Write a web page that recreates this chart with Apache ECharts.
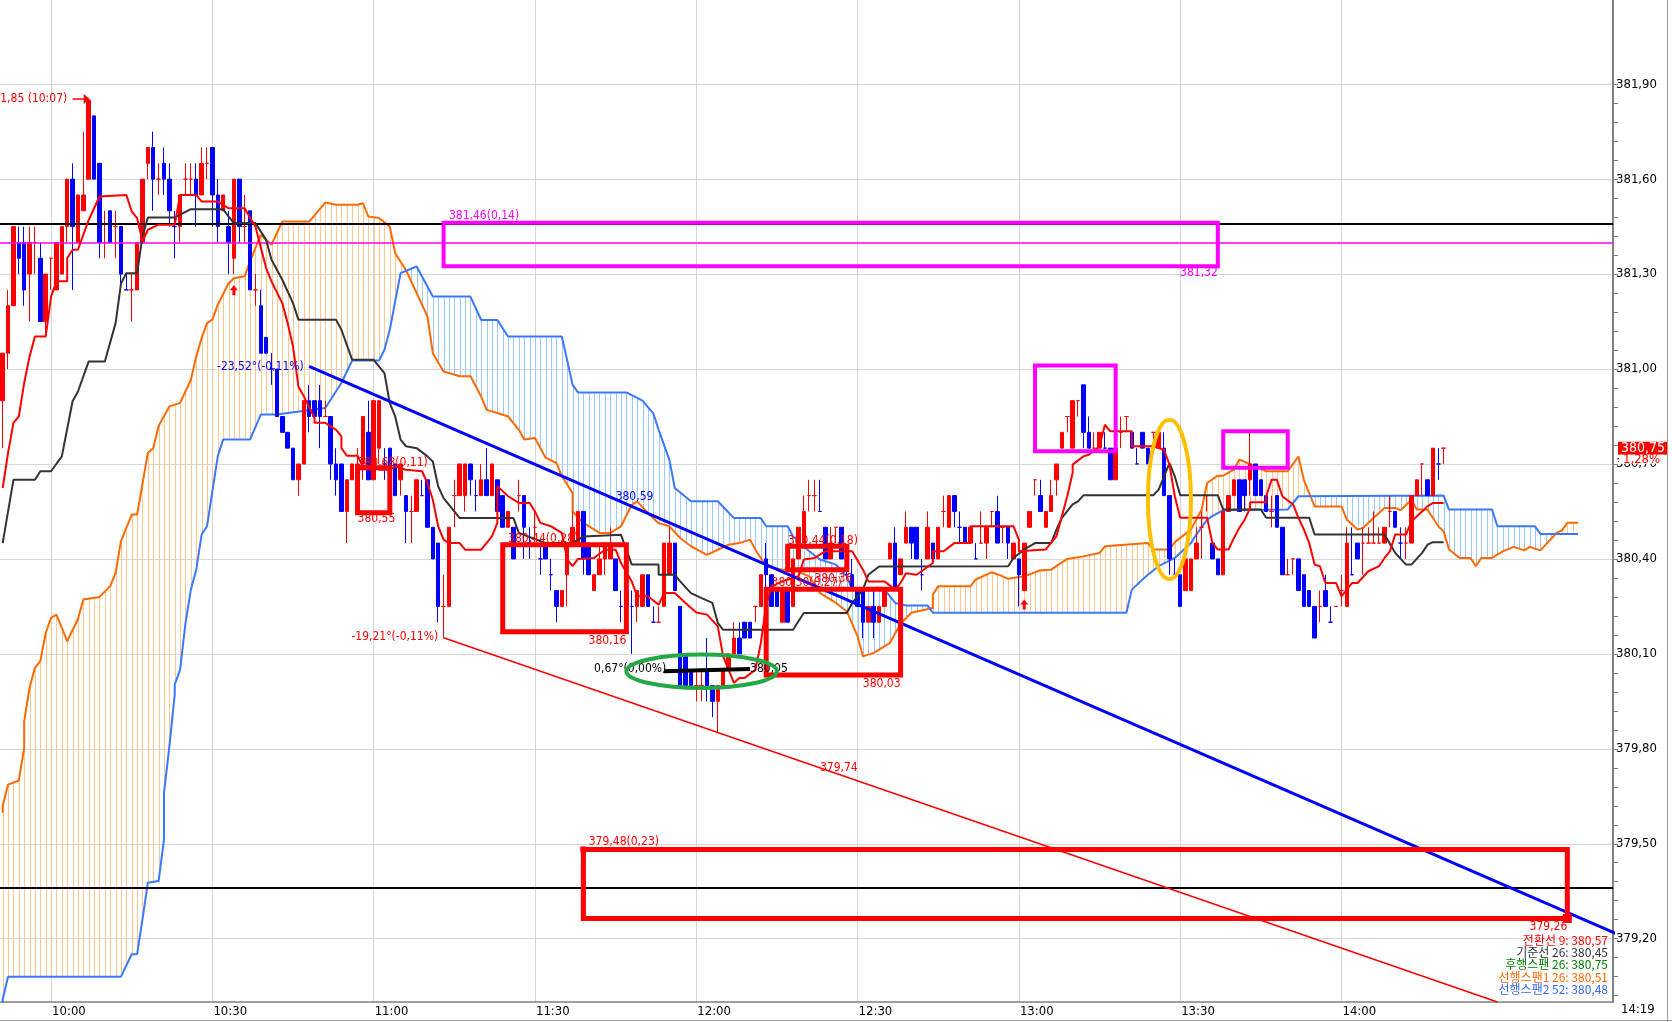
<!DOCTYPE html>
<html>
<head>
<meta charset="utf-8">
<title>일목균형표</title>
<script src="https://cdn.jsdelivr.net/npm/echarts@6.0.0/dist/echarts.min.js"></script>
<style>
  html, body { margin: 0; padding: 0; background: #fff; }
  #chart { width: 1672px; height: 1022px; }
</style>
</head>
<body>
<div id="chart"></div>
<script>
var NUM_FONT = '"Liberation Sans Narrow", "DejaVu Sans Condensed", "Arial Narrow", sans-serif';
var KR_FONT = '"Noto Sans CJK KR", "Noto Sans", sans-serif';

// ---- 분봉 시간축 (09:51 ~ 14:50, 1분 간격) ----
var firstMinute = 9 * 60 + 51;
var slotCount = 300;
var times = [];
for (var k = 0; k < slotCount; k++) {
  var mm = firstMinute + k;
  times.push(pad(Math.floor(mm / 60)) + ':' + pad(mm % 60));
}
function pad(n) { return (n < 10 ? '0' : '') + n; }

var gridTimes = ['10:00', '10:30', '11:00', '11:30', '12:00', '12:30', '13:00', '13:30', '14:00'];
var yTicks = [379.20, 379.50, 379.80, 380.10, 380.40, 380.70, 381.00, 381.30, 381.60, 381.90];

// ---- 캔들 [시가, 종가, 저가, 고가] ----
var candles = [
  [380.90,381.05,380.75,381.05],[381.05,381.20,381.00,381.25],[381.20,381.45,381.20,381.45],[381.40,381.35,381.30,381.45],
  [381.40,381.25,381.20,381.45],[381.30,381.40,381.15,381.45],[381.40,381.40,381.30,381.45],[381.35,381.15,381.15,381.40],
  [381.15,381.30,381.10,381.30],[381.35,381.35,381.25,381.35],[381.25,381.40,381.25,381.40],[381.30,381.45,381.30,381.45],
  [381.45,381.60,381.40,381.60],[381.60,381.45,381.25,381.65],[381.40,381.55,381.40,381.55],[381.50,381.55,381.50,381.75],
  [381.60,381.85,381.60,381.85],[381.80,381.60,381.60,381.80],[381.65,381.40,381.35,381.65],[381.40,381.40,381.35,381.50],
  [381.50,381.40,381.40,381.50],[381.45,381.45,381.35,381.50],[381.45,381.30,381.25,381.45],[381.25,381.25,381.25,381.30],
  [381.25,381.25,381.15,381.30],[381.25,381.40,381.25,381.40],[381.40,381.60,381.40,381.60],[381.65,381.70,381.60,381.70],
  [381.70,381.60,381.50,381.75],[381.60,381.60,381.55,381.65],[381.65,381.60,381.55,381.70],[381.60,381.50,381.45,381.65],
  [381.45,381.45,381.35,381.50],[381.45,381.55,381.40,381.55],[381.60,381.60,381.55,381.65],[381.60,381.60,381.55,381.65],
  [381.60,381.55,381.45,381.65],[381.55,381.65,381.55,381.70],[381.65,381.65,381.60,381.70],[381.70,381.55,381.45,381.70],
  [381.55,381.45,381.40,381.60],[381.50,381.55,381.50,381.55],[381.45,381.40,381.30,381.50],[381.35,381.60,381.30,381.60],
  [381.60,381.45,381.40,381.60],[381.45,381.45,381.40,381.55],[381.50,381.25,381.25,381.50],[381.25,381.25,381.20,381.30],
  [381.20,381.05,381.05,381.25],[381.10,381.05,381.05,381.10],[381.00,381.00,380.95,381.05],[381.00,380.85,380.85,381.00],
  [380.85,380.80,380.80,380.85],[380.80,380.75,380.75,380.80],[380.75,380.65,380.65,380.75],[380.65,380.70,380.60,380.70],
  [380.70,380.90,380.70,380.90],[380.90,380.85,380.80,380.95],[380.90,380.85,380.85,380.90],[380.90,380.85,380.75,380.95],
  [380.85,380.85,380.85,380.90],[380.85,380.70,380.65,380.85],[380.70,380.65,380.60,380.75],[380.70,380.55,380.55,380.70],
  [380.55,380.65,380.45,380.65],[380.65,380.70,380.65,380.70],[380.65,380.70,380.60,380.75],[380.70,380.85,380.65,380.85],
  [380.80,380.65,380.65,380.90],[380.65,380.90,380.65,380.90],[380.75,380.90,380.70,380.90],[380.70,380.70,380.65,380.75],
  [380.75,380.65,380.60,380.75],[380.70,380.60,380.60,380.70],[380.65,380.70,380.60,380.70],[380.60,380.55,380.45,380.60],
  [380.55,380.55,380.45,380.60],[380.55,380.65,380.55,380.65],[380.60,380.60,380.60,380.65],[380.65,380.50,380.50,380.65],
  [380.50,380.40,380.40,380.50],[380.45,380.25,380.20,380.45],[380.25,380.25,380.15,380.35],[380.25,380.50,380.25,380.50],
  [380.60,380.60,380.50,380.65],[380.60,380.70,380.60,380.70],[380.60,380.70,380.55,380.70],[380.70,380.65,380.60,380.70],
  [380.60,380.60,380.55,380.65],[380.60,380.65,380.60,380.70],[380.65,380.60,380.60,380.75],[380.60,380.70,380.60,380.70],
  [380.65,380.55,380.55,380.65],[380.60,380.50,380.50,380.60],[380.50,380.55,380.50,380.55],[380.50,380.40,380.40,380.50],
  [380.60,380.60,380.55,380.65],[380.60,380.50,380.40,380.60],[380.45,380.45,380.40,380.50],[380.50,380.50,380.45,380.55],
  [380.40,380.40,380.35,380.45],[380.45,380.40,380.40,380.45],[380.35,380.35,380.30,380.40],[380.30,380.25,380.20,380.30],
  [380.25,380.30,380.25,380.30],[380.35,380.45,380.25,380.45],[380.45,380.50,380.45,380.55],[380.45,380.55,380.45,380.55],
  [380.55,380.40,380.35,380.55],[380.45,380.35,380.35,380.45],[380.30,380.35,380.30,380.35],[380.35,380.40,380.35,380.45],
  [380.40,380.45,380.35,380.45],[380.40,380.45,380.40,380.50],[380.40,380.30,380.30,380.40],[380.25,380.25,380.20,380.30],
  [380.25,380.30,380.20,380.30],[380.25,380.25,380.10,380.30],[380.25,380.30,380.20,380.30],[380.25,380.35,380.25,380.35],
  [380.35,380.25,380.25,380.35],[380.20,380.20,380.20,380.25],[380.20,380.20,380.20,380.25],[380.25,380.45,380.25,380.45],
  [380.35,380.45,380.35,380.50],[380.45,380.30,380.30,380.45],[380.25,380.00,380.00,380.25],[380.10,380.00,380.00,380.10],
  [380.05,380.00,380.00,380.05],[380.00,380.00,379.95,380.05],[380.00,380.00,379.95,380.05],[380.05,380.00,379.95,380.15],
  [380.00,379.95,379.90,380.00],[379.95,380.00,379.85,380.00],[380.00,380.05,380.00,380.05],[380.05,380.10,380.05,380.10],
  [380.10,380.15,380.10,380.20],[380.15,380.10,380.10,380.20],[380.20,380.15,380.15,380.20],[380.20,380.15,380.15,380.20],
  [380.25,380.25,380.20,380.25],[380.25,380.35,380.25,380.35],[380.40,380.35,380.25,380.45],[380.35,380.25,380.25,380.35],
  [380.30,380.25,380.25,380.30],[380.20,380.30,380.20,380.30],[380.30,380.20,380.20,380.30],[380.25,380.40,380.25,380.40],
  [380.40,380.50,380.40,380.50],[380.45,380.55,380.45,380.60],[380.60,380.60,380.55,380.65],[380.60,380.60,380.55,380.65],
  [380.55,380.55,380.55,380.65],[380.50,380.40,380.40,380.50],[380.40,380.45,380.40,380.50],[380.50,380.50,380.45,380.50],
  [380.50,380.40,380.40,380.50],[380.35,380.35,380.35,380.40],[380.35,380.30,380.30,380.40],[380.30,380.25,380.25,380.30],
  [380.30,380.20,380.15,380.30],[380.20,380.25,380.20,380.25],[380.25,380.20,380.15,380.30],[380.20,380.25,380.20,380.25],
  [380.25,380.30,380.25,380.30],[380.40,380.45,380.40,380.45],[380.45,380.30,380.30,380.50],[380.35,380.40,380.35,380.40],
  [380.45,380.50,380.45,380.55],[380.50,380.45,380.40,380.50],[380.50,380.40,380.40,380.50],[380.35,380.35,380.30,380.40],
  [380.40,380.50,380.40,380.55],[380.45,380.40,380.40,380.45],[380.40,380.50,380.40,380.50],[380.55,380.55,380.50,380.60],
  [380.50,380.60,380.50,380.60],[380.60,380.55,380.50,380.60],[380.50,380.50,380.45,380.55],[380.50,380.45,380.45,380.50],
  [380.45,380.50,380.45,380.50],[380.40,380.40,380.40,380.45],[380.45,380.45,380.45,380.55],[380.45,380.50,380.40,380.50],
  [380.55,380.55,380.50,380.55],[380.55,380.45,380.45,380.60],[380.50,380.50,380.45,380.50],[380.50,380.45,380.40,380.50],
  [380.40,380.45,380.40,380.45],[380.40,380.35,380.25,380.40],[380.30,380.45,380.30,380.45],[380.50,380.55,380.50,380.55],
  [380.65,380.65,380.60,380.65],[380.60,380.55,380.55,380.65],[380.50,380.55,380.50,380.55],[380.55,380.60,380.55,380.65],
  [380.65,380.70,380.60,380.70],[380.75,380.80,380.75,380.80],[380.85,380.85,380.80,380.85],[380.75,380.90,380.75,380.90],
  [380.90,380.90,380.85,380.90],[380.95,380.80,380.75,380.95],[380.80,380.75,380.75,380.85],[380.75,380.75,380.75,380.80],
  [380.75,380.80,380.75,380.80],[380.75,380.75,380.75,380.80],[380.75,380.65,380.65,380.75],[380.65,380.75,380.65,380.80],
  [380.80,380.80,380.75,380.85],[380.85,380.85,380.80,380.85],[380.80,380.75,380.75,380.80],[380.70,380.70,380.70,380.75],
  [380.80,380.75,380.75,380.80],[380.75,380.70,380.70,380.75],[380.80,380.80,380.75,380.80],[380.75,380.80,380.75,380.80],
  [380.75,380.60,380.60,380.80],[380.60,380.40,380.35,380.60],[380.35,380.35,380.35,380.40],[380.35,380.25,380.25,380.35],
  [380.30,380.40,380.30,380.40],[380.30,380.40,380.30,380.40],[380.40,380.45,380.40,380.50],[380.50,380.50,380.40,380.55],
  [380.60,380.60,380.55,380.60],[380.45,380.40,380.40,380.45],[380.40,380.35,380.35,380.40],[380.35,380.55,380.35,380.55],
  [380.55,380.60,380.55,380.60],[380.60,380.65,380.60,380.65],[380.65,380.55,380.55,380.65],[380.65,380.60,380.55,380.65],
  [380.65,380.70,380.60,380.80],[380.70,380.60,380.60,380.70],[380.65,380.60,380.60,380.65],[380.60,380.55,380.55,380.60],
  [380.55,380.55,380.50,380.60],[380.60,380.50,380.50,380.60],[380.50,380.35,380.35,380.50],[380.35,380.35,380.35,380.40],
  [380.40,380.40,380.35,380.40],[380.40,380.30,380.30,380.40],[380.35,380.25,380.25,380.35],[380.30,380.25,380.25,380.30],
  [380.25,380.15,380.15,380.25],[380.25,380.25,380.20,380.30],[380.30,380.25,380.25,380.35],[380.20,380.20,380.20,380.25],
  [380.25,380.25,380.25,380.25],[380.30,380.30,380.25,380.35],[380.25,380.45,380.25,380.50],[380.35,380.35,380.35,380.50],
  [380.45,380.40,380.40,380.45],[380.45,380.45,380.35,380.50],[380.45,380.45,380.45,380.50],[380.45,380.45,380.45,380.55],
  [380.45,380.45,380.45,380.50],[380.45,380.50,380.45,380.50],[380.55,380.55,380.50,380.60],[380.55,380.50,380.50,380.55],
  [380.45,380.45,380.40,380.50],[380.45,380.45,380.40,380.50],[380.45,380.60,380.45,380.60],[380.60,380.65,380.60,380.65],
  [380.70,380.70,380.60,380.70],[380.65,380.60,380.60,380.65],[380.60,380.75,380.60,380.75],[380.70,380.70,380.65,380.75],
  [380.75,380.75,380.70,380.75]
];

// ---- 일목균형표 선들 [분 인덱스, 값] ----
var tenkan = [
  [-0.5,380.624],[0.1,380.63],[1.05,380.735],[2,380.83],[3.2,380.85],[4.2,380.956],[5.1,381.04],[6,381.103],[8.2,381.103],
  [9.1,381.229],[10.3,381.277],[11.6,381.277],[12.2,381.35],[13.1,381.377],[14.3,381.377],[15.6,381.471],[17.8,381.545],
  [18.4,381.55],[23.1,381.55],[24.3,381.498],[25.2,381.477],[26.2,381.403],[27.4,381.44],[28.6,381.456],[31.7,381.456],
  [33.3,381.55],[36.4,381.55],[37.3,381.529],[40.1,381.529],[41.7,381.508],[45.4,381.508],[47.2,381.45],[48.5,381.319],
  [50,381.277],[51.9,381.208],[53.4,381.145],[54.4,381.071],[55.3,380.945],[56.2,380.914],[57.8,380.845],[58.4,380.83],
  [60.2,380.83],[61.5,380.808],[62.7,380.787],[63.3,380.75],[64.3,380.726],[66.4,380.726],[67.4,380.692],[69.2,380.692],
  [70.2,380.682],[72,380.682],[73,380.692],[74.5,380.682],[75.1,380.677],[78.2,380.677],[78.85,380.64],[79.8,380.587],
  [80.7,380.503],[81.6,380.461],[83.2,380.45],[85,380.45],[86,380.429],[89.4,380.429],[90.6,380.471],[91.6,380.514],
  [92.2,380.63],[93.7,380.598],[95.6,380.577],[97.8,380.577],[99.3,380.55],[99.9,380.514],[101.8,380.503],[103.6,380.482],
  [104.9,380.398],[106.1,380.377],[107.4,380.4],[109.8,380.403],[111.7,380.429],[114.2,380.429],[115.1,380.387],
  [116.7,380.329],[117.6,380.282],[119.5,380.282],[121.6,380.255],[123.2,380.292],[125.4,380.292],[126.9,380.261],
  [128.8,380.231],[131.2,380.224],[132.8,380.187],[134,380.092],[135.6,380.008],[136.8,380.024],[138.4,380.024],
  [139.6,380.05],[141.2,380.134],[142.1,380.255],[143.3,380.313],[145.2,380.329],[147.7,380.345],[148.9,380.398],
  [150.8,380.403],[153,380.424],[158.2,380.424],[159.8,380.366],[160.7,380.329],[164.4,380.329],[166,380.303],
  [166.9,380.324],[168.4,380.355],[170.3,380.35],[172.5,380.387],[173.1,380.424],[175.3,380.424],[176.5,380.45],
  [179.6,380.45],[180.2,380.503],[188,380.503],[188.6,380.461],[189.2,380.424],[194.2,380.43],[196,380.472],
  [197.3,380.535],[198.2,380.598],[198.8,380.672],[199.1,380.698],[200.7,380.724],[202.2,380.729],[203.5,380.756],
  [205,380.824],[206,380.803],[209.7,380.803],[210.3,380.756],[214,380.756],[215.9,380.745],[216.5,380.698],
  [217.7,380.598],[219,380.53],[223.9,380.53],[224.8,380.45],[225.8,380.43],[228,380.43],[228.9,380.466],[230.1,380.498],
  [231.4,380.524],[232,380.561],[232.3,380.579],[234.5,380.579],[235.1,380.598],[236,380.65],[237.2,380.65],
  [238.2,380.598],[239.7,380.572],[240.6,380.53],[241.6,380.493],[242.8,380.45],[244.1,380.382],[245,380.377],
  [246.2,380.324],[248.1,380.324],[249.3,380.282],[250.6,380.324],[252.4,380.324],[253.7,380.361],[255.5,380.377],
  [256.8,380.403],[257.7,380.424],[259,380.477],[260.8,380.477],[262,380.519],[263.6,380.55],[264.8,380.566],
  [266.1,380.577],[268,380.577]
];
var kijun = [
  [-0.5,380.45],[0.1,380.45],[2,380.65],[6.3,380.65],[7.3,380.677],[9.4,380.677],[11.3,380.724],[12.8,380.898],
  [14.4,380.929],[16.2,381.024],[19.3,381.024],[20.9,381.145],[22.4,381.27],[23.4,381.303],[24.9,381.303],[26.2,381.419],
  [27.4,381.479],[31.7,381.479],[34.5,381.505],[41,381.505],[42,381.482],[42.9,381.461],[46.9,381.461],[48.5,381.408],
  [50.3,381.345],[52.2,381.282],[54.1,381.208],[55,381.156],[61.5,381.156],[63.3,381.124],[64.9,381.029],[69.2,381.029],
  [70.8,380.987],[72,380.892],[73,380.85],[73.9,380.777],[75.1,380.756],[76.7,380.75],[78.8,380.724],[79.8,380.708],
  [80.7,380.629],[82,380.592],[84.1,380.55],[85,380.529],[95,380.529],[95.6,380.482],[101.2,380.45],[106.1,380.45],
  [108,380.471],[115.4,380.476],[117,380.382],[121.6,380.382],[122.2,380.35],[124.7,380.35],[126.3,380.329],
  [128.4,380.292],[130.3,380.276],[131.5,380.261],[133.4,380.198],[134,380.176],[147.1,380.176],[148,380.203],
  [149.2,380.229],[157,380.229],[158.2,380.261],[160.1,380.303],[161.3,380.35],[162.9,380.376],[187.3,380.377],
  [188.3,380.403],[190.1,380.43],[191.7,380.45],[195.1,380.45],[196,380.493],[197.3,380.53],[198.8,380.572],
  [200.4,380.582],[201.3,380.601],[214.3,380.601],[215.2,380.619],[216.5,380.703],[217.7,380.661],[219.3,380.601],
  [225.8,380.601],[227,380.556],[234.1,380.556],[234.8,380.53],[242.8,380.53],[244.1,380.477],[257.1,380.477],
  [258.6,380.419],[260.5,380.382],[262.4,380.382],[263.9,380.419],[265.4,380.445],[266.4,380.453],[268,380.453]
];
var spanA = [
  [-0.5,379.598],[0.1,379.62],[1.2,379.687],[3.2,379.70],[3.8,379.803],[4.3,379.887],[5.1,379.993],[6.3,380.056],
  [7.3,380.077],[8.1,380.166],[9.1,380.214],[10,380.224],[12.2,380.14],[14.1,380.21],[15.3,380.272],[17.5,380.28],
  [20,380.314],[20.9,380.356],[22.4,380.456],[24,380.54],[25.2,380.54],[26.8,380.735],[28,380.75],[29.3,380.82],
  [31.1,380.882],[33.3,380.893],[34.5,380.966],[36.4,381.04],[37,381.098],[38.2,381.145],[39.2,381.156],[40.4,381.203],
  [42,381.27],[43.2,381.287],[44.8,381.293],[46,381.34],[47.1,381.382],[48.2,381.424],[50,381.393],[52,381.466],
  [57.3,381.466],[59.6,381.526],[61.6,381.519],[65.9,381.519],[66.6,381.524],[67.9,381.482],[70.2,381.477],
  [71.9,381.45],[73.2,381.366],[75.2,381.313],[77.2,381.24],[78.8,381.166],[80.1,381.05],[82.3,380.992],[85,380.977],
  [87.2,380.977],[88.8,380.913],[90.3,380.871],[92.2,380.861],[94.3,380.85],[96.2,380.808],[97.1,380.777],
  [98.7,380.782],[100.5,380.719],[103,380.703],[104.3,380.661],[105.5,380.608],[106.1,380.55],[108,380.514],
  [111.1,380.482],[113,380.482],[115.1,380.503],[116.7,380.571],[118.2,380.582],[120.4,380.545],[121.6,380.513],
  [124.1,380.503],[126,380.466],[127.8,380.44],[130.6,380.413],[132.8,380.429],[135,380.445],[137.1,380.45],
  [139,380.461],[140.2,380.429],[142.1,380.376],[144.6,380.366],[147.1,380.366],[150.1,380.345],[152,380.292],
  [154.5,380.261],[157,380.234],[158.5,380.155],[160.1,380.092],[161.9,380.103],[165,380.134],[166.9,380.195],
  [169.4,380.23],[172.5,380.245],[173.1,380.287],[174.3,380.314],[180.2,380.314],[181.1,380.335],[183.6,380.358],
  [185.5,380.345],[187.3,380.337],[190.4,380.345],[192.9,380.364],[195.4,380.366],[197.9,380.40],[200.7,380.408],
  [204.1,380.419],[205.3,380.44],[212.8,380.45],[214,380.43],[216.5,380.43],[218.3,380.453],[220.8,380.493],
  [222.7,380.556],[223.9,380.64],[225.8,380.663],[227.3,380.663],[228.9,380.682],[230.1,380.714],[234.5,380.677],
  [239.1,380.677],[241,380.724],[242.2,380.65],[244.1,380.566],[248.7,380.566],[250,380.524],[251.8,380.493],
  [253,380.498],[254.9,380.53],[256.8,380.561],[259.2,380.561],[260.2,380.554],[262,380.587],[263.3,380.556],
  [265.1,380.556],[266.7,380.503],[268.2,380.487],[268.9,380.43],[271,380.403],[273.2,380.403],[274.1,380.377],
  [275.4,380.403],[277.2,380.403],[279.1,380.424],[281.3,380.438],[282.8,380.427],[284.4,380.438],[285.9,380.427],
  [287.1,380.445],[289,380.482],[290.2,380.49],[291.2,380.514],[293,380.514]
];
var spanB = [
  [-0.5,378.95],[0.1,379.009],[1.2,379.08],[22.4,379.08],[24,379.151],[25.2,379.151],[26.2,379.261],[27.4,379.377],
  [29.3,379.382],[29.6,379.514],[30.2,379.661],[31.1,379.808],[31.7,379.972],[32.4,380.003],[33.3,380.05],
  [33.9,380.198],[34.8,380.303],[35.8,380.366],[37,380.477],[38.2,380.503],[40.1,380.724],[41.3,380.777],
  [46.3,380.777],[48.2,380.856],[51.3,380.856],[60.2,380.877],[63.3,380.956],[65.2,381.027],[70.2,381.027],
  [71.2,381.061],[72,381.124],[73.9,381.303],[76.9,381.324],[79.8,381.229],[87.1,381.229],[89.1,381.155],
  [92.1,381.155],[93.8,381.103],[104.3,381.103],[106.1,380.95],[107.4,380.926],[116,380.926],[118.5,380.9],
  [120.5,380.86],[122.2,380.808],[123.8,380.713],[125.4,380.624],[127.8,380.582],[133.4,380.582],[135.9,380.529],
  [141.2,380.529],[142.4,380.503],[145.8,380.503],[147,380.471],[150.1,380.424],[152,380.398],[155.1,380.382],
  [157.3,380.345],[157.9,380.303],[164.1,380.303],[166,380.261],[168.1,380.253],[171.8,380.253],[172.8,380.23],
  [209,380.23],[210.3,380.303],[211.5,380.335],[212.8,380.35],[214.6,380.377],[218.3,380.403],[220.8,380.45],
  [222,380.477],[223.6,380.524],[225.2,380.535],[226.7,380.554],[238.5,380.556],[241,380.598],[241.3,380.6],
  [267.9,380.6],[268.9,380.556],[276.9,380.556],[278.2,380.503],[285,380.503],[285.9,380.479],[293,380.479]
];
var lastCloudIndex = 293;

// ---- 추세선 / 수평선 ----
var trendBlue = [[57.2, 381.008], [299.5, 379.217]];
var trendRed = [[82.1, 380.151], [277.5, 379.0]];
var trendFlat = [[122.9, 380.045], [139.3, 380.052]];
var levelBlack = [381.456, 379.36];
var levelMagenta = [381.40];

// ---- 주석 ----
var boxes = [
  { from: [82.2, 381.462], to: [226.0, 381.325], color: '#ff00ff', width: 4 },
  { from: [66.0, 380.688], to: [72.1, 380.546], color: '#ff0000', width: 5 },
  { from: [93.0, 380.445], to: [116.1, 380.170], color: '#ff0000', width: 5 },
  { from: [145.8, 380.440], to: [157.3, 380.366], color: '#ff0000', width: 5 },
  { from: [141.8, 380.304], to: [167.2, 380.033], color: '#ff0000', width: 5 },
  { from: [192.3, 381.011], to: [206.9, 380.740], color: '#ff00ff', width: 4 },
  { from: [227.0, 380.803], to: [238.7, 380.688], color: '#ff00ff', width: 4 },
  { from: [108.0, 379.482], to: [291.0, 379.264], color: '#ff0000', width: 5 }
];
var ellipses = [
  { at: [217.1, 380.588], rx: 3.6, ry: 0.2517, color: '#ffc000' },
  { at: [130.3, 380.045], rx: 13.95, ry: 0.0527, color: '#22a844' }
];
var notes = [
  { at: [82.5, 381.484], text: '381,46(0,14)', color: '#ff00ff', align: 'left' },
  { at: [226.1, 381.304], text: '381,32', color: '#ff00ff', align: 'right' },
  { at: [65.8, 380.704], text: '380,68(0,11)', color: '#ff0000', align: 'left' },
  { at: [65.8, 380.527], text: '380,55', color: '#ff0000', align: 'left' },
  { at: [93.6, 380.464], text: '380,44(0,28)', color: '#ff0000', align: 'left' },
  { at: [116.1, 380.142], text: '380,16', color: '#ff0000', align: 'right' },
  { at: [146.4, 380.458], text: '380,44(0,18)', color: '#ff0000', align: 'left' },
  { at: [142.5, 380.325], text: '380,30(0,27)', color: '#ff0000', align: 'left' },
  { at: [157.6, 380.338], text: '380,36', color: '#ff0000', align: 'right' },
  { at: [167.1, 380.006], text: '380,03', color: '#ff0000', align: 'right' },
  { at: [108.8, 379.506], text: '379,48(0,23)', color: '#ff0000', align: 'left' },
  { at: [290.9, 379.238], text: '379,26', color: '#ff0000', align: 'right' },
  { at: [12.15, 381.853], text: '381,85 (10:07)', color: '#ff0000', align: 'right' },
  { at: [56.4, 381.007], text: '-23,52°(-0,11%)', color: '#0000ff', align: 'right' },
  { at: [81.0, 380.154], text: '-19,21°(-0,11%)', color: '#ff0000', align: 'right' },
  { at: [152.4, 379.741], text: '379,74', color: '#ff0000', align: 'left' },
  { at: [113.6, 380.595], text: '380,59', color: '#0000ff', align: 'left' },
  { at: [109.7, 380.053], text: '0,67°(0,00%)', color: '#000000', align: 'left' },
  { at: [139.3, 380.053], text: '380,05', color: '#000000', align: 'left' }
];
var upArrows = [[43.2, 381.265], [190.1, 380.272]];
var highArrow = [[12.9, 381.853], [15.8, 381.853]];
var cornerMarks = [{ at: [108.0, 379.482], size: 6 }, { at: [291.0, 379.264], size: 9 }];
var legendLines = [
  { text: '전환선 9: 380,57', color: '#ff0000' },
  { text: '기준선 26: 380,45', color: '#333333' },
  { text: '후행스팬 26: 380,75', color: '#008000' },
  { text: '선행스팬1 26: 380,51', color: '#ff6600' },
  { text: '선행스팬2 52: 380,48', color: '#3366ff' }
];
var lastPrice = 380.75;
var lastChange = '1,28%';

function fmt(v) { return v.toFixed(2).replace('.', ','); }

var minorTicks = [];
for (var t = 381.90; t > 379.0; t -= 0.06) minorTicks.push(Math.round(t * 100) / 100);

function renderCloud(params, api) {
  var cs = params.coordSys;
  var top = cs.y, bottom = cs.y + cs.height;
  var a = spanA.map(function (p) { return api.coord(p); });
  var b = spanB.map(function (p) { return api.coord(p); });
  var band = a.concat(b.slice().reverse());
  var x0 = a[0][0], x1 = a[a.length - 1][0];
  var below = a.concat([[x1, bottom + 10], [x0, bottom + 10]]);
  var above = a.concat([[x1, top - 10], [x0, top - 10]]);
  var d = '';
  for (var i = 0; i <= lastCloudIndex; i++) {
    var x = Math.round(api.coord([i, 380])[0]) + 0.5;
    d += 'M' + x + ' ' + top + 'L' + x + ' ' + bottom;
  }
  function hatch(side, color) {
    return {
      type: 'group', clipPath: { type: 'polygon', shape: { points: side } },
      children: [{
        type: 'group', clipPath: { type: 'polygon', shape: { points: band } },
        children: [{ type: 'path', shape: { pathData: d }, style: { stroke: color, lineWidth: 1, fill: null } }]
      }]
    };
  }
  return { type: 'group', children: [hatch(below, '#ffc68e'), hatch(above, '#9ac8ff')] };
}

function renderNotes(params, api) {
  var cs = params.coordSys;
  var kids = [];
  boxes.forEach(function (bx) {
    var p1 = api.coord(bx.from), p2 = api.coord(bx.to);
    kids.push({
      type: 'rect',
      shape: { x: Math.min(p1[0], p2[0]), y: Math.min(p1[1], p2[1]), width: Math.abs(p2[0] - p1[0]), height: Math.abs(p2[1] - p1[1]) },
      style: { fill: null, stroke: bx.color, lineWidth: bx.width }
    });
  });
  cornerMarks.forEach(function (c) {
    var p = api.coord(c.at);
    kids.push({ type: 'rect', shape: { x: p[0] - c.size / 2, y: p[1] - c.size / 2, width: c.size, height: c.size }, style: { fill: '#ff0000' } });
  });
  notes.forEach(function (n) {
    var p = api.coord(n.at);
    kids.push({
      type: 'text', x: p[0], y: p[1],
      style: { text: n.text, fill: n.color, font: '12px ' + NUM_FONT, align: n.align, verticalAlign: 'middle' }
    });
  });
  ellipses.forEach(function (e) {
    var c = api.coord(e.at);
    var px = api.coord([e.at[0] + e.rx, e.at[1] + e.ry]);
    kids.push({
      type: 'ellipse',
      shape: { cx: c[0], cy: c[1], rx: Math.abs(px[0] - c[0]), ry: Math.abs(c[1] - px[1]) },
      style: { fill: null, stroke: e.color, lineWidth: 4 }
    });
  });
  upArrows.forEach(function (u) {
    var p = api.coord(u);
    var x = p[0], y = p[1];
    kids.push({
      type: 'polygon',
      shape: { points: [[x, y], [x - 4, y + 5], [x - 1.5, y + 5], [x - 1.5, y + 10], [x + 1.5, y + 10], [x + 1.5, y + 5], [x + 4, y + 5]] },
      style: { fill: '#ff0000' }
    });
  });
  var h0 = api.coord(highArrow[0]), h1 = api.coord(highArrow[1]);
  kids.push({ type: 'line', shape: { x1: h0[0], y1: h0[1], x2: h1[0], y2: h1[1] }, style: { stroke: '#ff0000', lineWidth: 1.5 } });
  kids.push({
    type: 'polygon',
    shape: { points: [[h1[0] + 1, h1[1]], [h1[0] - 5, h1[1] - 5], [h1[0] - 5, h1[1] + 5]] },
    style: { fill: '#ff0000' }
  });

  // 현재가 표시
  var right = cs.x + cs.width;
  var py = api.coord([0, lastPrice])[1];
  kids.push({ type: 'rect', shape: { x: right + 5, y: py - 6.5, width: 49, height: 13 }, style: { fill: '#ff0000' } });
  kids.push({ type: 'text', x: right + 8, y: py, style: { text: fmt(lastPrice), fill: '#ffffff', font: '14px ' + NUM_FONT, verticalAlign: 'middle' } });
  kids.push({ type: 'rect', shape: { x: right + 6, y: py + 6.5, width: 46, height: 9 }, style: { fill: '#ffffff' } });
  kids.push({ type: 'text', x: right + 10, y: py + 11, style: { text: lastChange, fill: '#ff0000', font: '13px ' + NUM_FONT, verticalAlign: 'middle' } });

  // 범례
  var bottom = cs.y + cs.height;
  for (var i = 0; i < legendLines.length; i++) {
    var ln = legendLines[legendLines.length - 1 - i];
    kids.push({
      type: 'text', x: right - 5, y: bottom - 12.5 - i * 12.3,
      style: { text: ln.text, fill: ln.color, font: '12px ' + KR_FONT, align: 'right', verticalAlign: 'middle' }
    });
  }
  // 마지막 시간
  kids.push({
    type: 'text', x: right + 8, y: bottom + 8,
    style: { text: times[candles.length - 1], fill: '#000', font: '13px ' + NUM_FONT, verticalAlign: 'middle' }
  });
  return { type: 'group', children: kids };
}

var chart = echarts.init(document.getElementById('chart'), null, { renderer: 'canvas' });

var option = {
  animation: false,
  backgroundColor: '#ffffff',
  grid: { left: 0, top: 0, right: 59, bottom: 20, containLabel: false },
  xAxis: {
    type: 'category', data: times, boundaryGap: true,
    axisLine: { lineStyle: { color: '#808080', width: 1.5 } },
    axisTick: {
      alignWithLabel: true, length: 17, lineStyle: { color: '#c4c4c4' },
      interval: function (i, v) { return gridTimes.indexOf(v) >= 0; }
    },
    axisLabel: {
      interval: function (i, v) { return gridTimes.indexOf(v) >= 0; },
      align: 'left', margin: 3, color: '#000', fontSize: 13, fontFamily: NUM_FONT, padding: [0, 0, 0, 1]
    },
    splitLine: { show: false }
  },
  yAxis: {
    type: 'value', position: 'right', min: 379.0, max: 382.166, scale: true,
    splitLine: { show: false },
    axisLine: { show: true, lineStyle: { color: '#808080', width: 2 } },
    axisTick: { show: true, inside: false, length: 5, lineStyle: { color: '#808080' }, customValues: minorTicks },
    axisLabel: { customValues: yTicks, formatter: function (v) { return fmt(v); }, color: '#000', fontSize: 13, fontFamily: NUM_FONT, margin: 3 }
  },
  series: [
    {
      name: 'grid', type: 'line', data: [], z: 0, silent: true,
      markLine: {
        silent: true, symbol: 'none', label: { show: false }, z: 0,
        lineStyle: { color: '#d6d6d6', width: 1, type: 'solid' },
        data: yTicks.map(function (v) { return { yAxis: v }; }).concat(gridTimes.map(function (t) { return { xAxis: t }; }))
      }
    },
    { name: 'cloud', type: 'custom', renderItem: renderCloud, data: [[0, 380]], z: 1, silent: true },
    { name: '선행스팬1', type: 'line', data: spanA, showSymbol: false, z: 2, lineStyle: { color: '#ff6a00', width: 2 } },
    { name: '선행스팬2', type: 'line', data: spanB, showSymbol: false, z: 2, lineStyle: { color: '#3a78ff', width: 2 } },
    {
      name: 'levels', type: 'line', data: [], z: 3, silent: true,
      markLine: {
        silent: true, symbol: 'none', label: { show: false },
        data: levelBlack.map(function (v) { return { yAxis: v, lineStyle: { color: '#000000', width: 2, type: 'solid' } }; })
          .concat(levelMagenta.map(function (v) { return { yAxis: v, lineStyle: { color: '#ff00ff', width: 1.5, type: 'solid' } }; }))
      }
    },
    {
      name: '캔들', type: 'candlestick', data: candles, barWidth: 4, z: 4,
      itemStyle: { color: '#ff0000', color0: '#0000ff', borderColor: '#ff0000', borderColor0: '#0000ff', borderWidth: 1 }
    },
    { name: '기준선', type: 'line', data: kijun, showSymbol: false, z: 5, lineStyle: { color: '#333333', width: 2 } },
    { name: '전환선', type: 'line', data: tenkan, showSymbol: false, z: 6, lineStyle: { color: '#ff0000', width: 2 } },
    { name: 'trendRed', type: 'line', data: trendRed, showSymbol: false, z: 7, lineStyle: { color: '#ff0000', width: 1.5 } },
    { name: 'trendBlue', type: 'line', data: trendBlue, showSymbol: false, z: 7, lineStyle: { color: '#0000ff', width: 3 } },
    { name: 'trendFlat', type: 'line', data: trendFlat, showSymbol: false, z: 7, lineStyle: { color: '#000000', width: 4 } },
    { name: 'notes', type: 'custom', renderItem: renderNotes, data: [[0, 380]], z: 9, clip: false, silent: true }
  ],
  graphic: [
    { type: 'line', shape: { x1: 0, y1: 1020.5, x2: 1672, y2: 1020.5 }, style: { stroke: '#a0a0a0', lineWidth: 1 } },
    { type: 'line', shape: { x1: 1667.5, y1: 0, x2: 1667.5, y2: 1022 }, style: { stroke: '#a0a0a0', lineWidth: 1 } }
  ]
};
chart.setOption(option);
</script>
</body>
</html>
